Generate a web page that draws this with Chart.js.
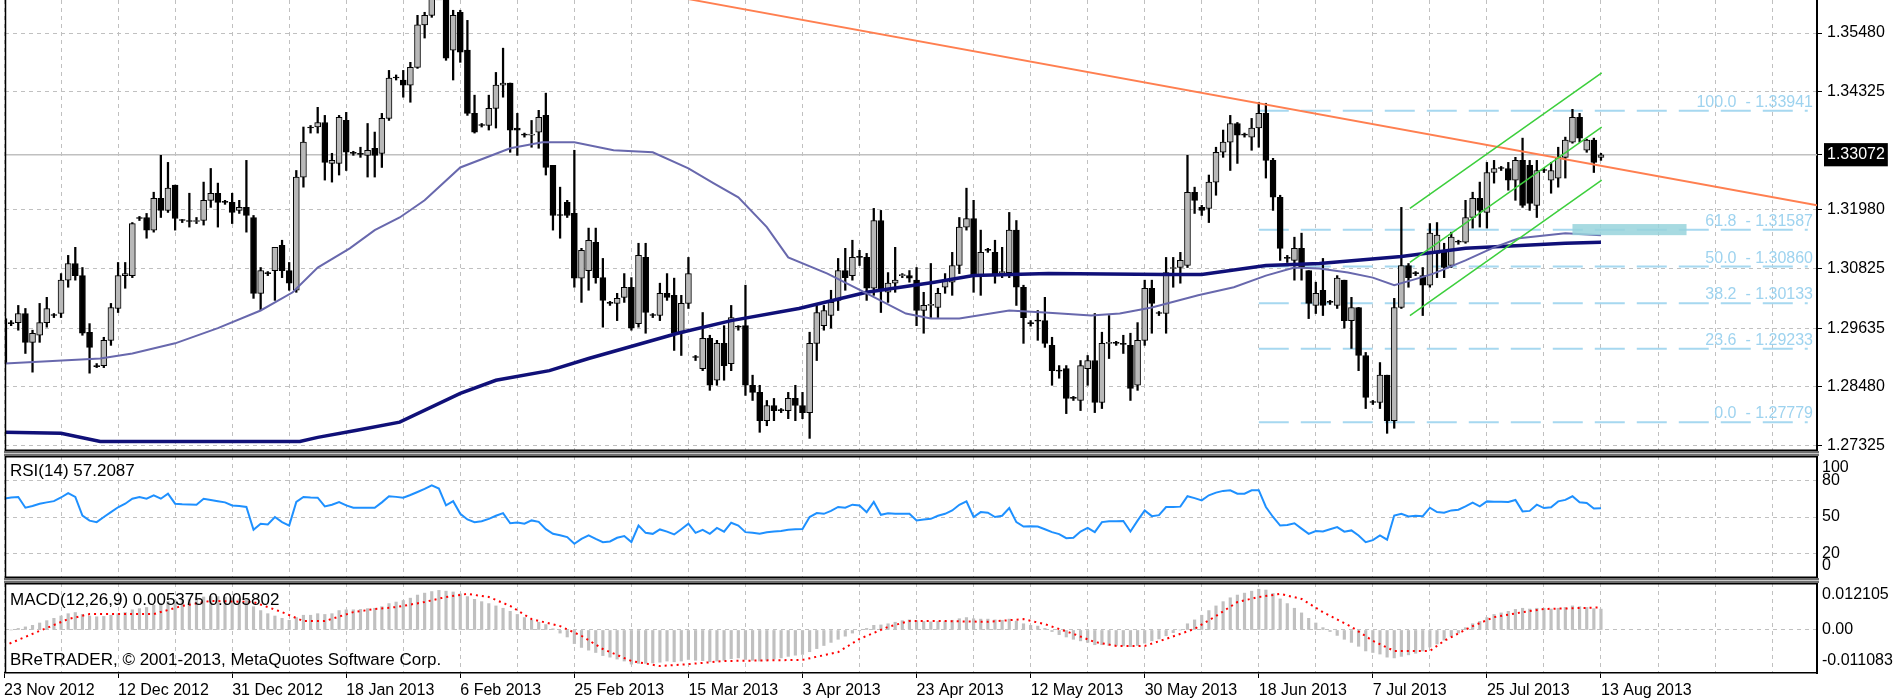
<!DOCTYPE html>
<html>
<head>
<meta charset="utf-8">
<title>EURUSD Daily</title>
<script src="https://cdn.jsdelivr.net/npm/chart.js@4.4.1/dist/chart.umd.min.js"></script>
<style>
  html, body { margin: 0; padding: 0; background: #fff; }
  #wrap { position: relative; width: 1900px; height: 700px; overflow: hidden; background: #fff; }
  #wrap canvas { position: absolute; left: 0; }
  .sep { position: absolute; left: 4px; width: 1815px; box-sizing: border-box; background: #c8c8c8; border-top: 2px solid #6e6e6e; border-bottom: 2px solid #6e6e6e; }
  .cap { position: absolute; left: 10px; font: 17px "Liberation Sans", Arial, sans-serif; color: #000; white-space: nowrap; line-height: 20px; }
</style>
</head>
<body>
<div id="wrap">
  <canvas id="main" width="1900" height="451" style="top:0"></canvas>
  <div class="sep" style="top:451px;height:5px"></div>
  <canvas id="rsi" width="1900" height="122" style="top:456px"></canvas>
  <div class="sep" style="top:578px;height:5px"></div>
  <canvas id="macd" width="1900" height="117" style="top:583px"></canvas>
  <div class="cap" style="top:461px">RSI(14) 57.2087</div>
  <div class="cap" style="top:590px">MACD(12,26,9) 0.005375 0.005802</div>
  <div class="cap" style="top:650px">BReTRADER, © 2001-2013, MetaQuotes Software Corp.</div>
</div>
<script>
Chart.defaults.font.family = '"Liberation Sans", Arial, sans-serif';
Chart.defaults.font.size = 16;
Chart.defaults.color = '#000';

// x axis: one step per daily bar (Sunday bars included), a date label every 16 bars
const dateLabels = ['23 Nov 2012', '12 Dec 2012', '31 Dec 2012', '18 Jan 2013', '6 Feb 2013',
  '25 Feb 2013', '15 Mar 2013', '3 Apr 2013', '23 Apr 2013', '12 May 2013', '30 May 2013',
  '18 Jun 2013', '7 Jul 2013', '25 Jul 2013', '13 Aug 2013'];
const barsPerLabel = 16;
const gridEvery = 8;
const xMin = 0.14, xMax = 254.3;

// price axis
const priceTicks = [1.27325, 1.2848, 1.29635, 1.30825, 1.3198, 1.33072, 1.34325, 1.3548];
const priceNow = 1.33072;
const priceMin = 1.2721, priceMax = 1.36133;

// candles
const opens = [
  1.2983,1.2975,1.2975,1.2993,1.2936,1.2950,1.2975,1.2989,1.2993,1.3059,
  1.3092,1.3068,1.2956,1.2890,1.2890,1.2940,1.3003,1.3068,1.3068,1.3181,
  1.3183,1.3158,1.3221,1.3197,1.3247,1.3177,1.3177,1.3175,1.3177,1.3217,
  1.3231,1.3213,1.3213,1.3197,1.3203,1.3183,1.3033,1.3072,1.3078,1.3128,
  1.3078,1.3039,1.3263,1.3360,1.3362,1.3371,1.3290,1.3290,1.3375,1.3310,
  1.3310,1.3306,1.3320,1.3310,1.3379,1.3461,1.3455,1.3445,1.3480,1.3564,
  1.3583,1.3692,1.3692,1.3514,1.3589,1.3514,1.3389,1.3365,1.3365,1.3399,
  1.3445,1.3449,1.3360,1.3346,1.3346,1.3352,1.3385,1.3286,1.3187,1.3213,
  1.3191,1.3063,1.3078,1.3134,1.3064,1.3013,1.3013,1.3025,1.3045,1.2973,
  1.3104,1.2989,1.2989,1.3033,1.3029,1.2954,1.3013,1.2906,1.2884,1.2944,
  1.2861,1.2934,1.2894,1.2966,1.2969,1.2851,1.2837,1.2781,1.2811,1.2801,
  1.2801,1.2825,1.2811,1.2797,1.2934,1.2969,1.2989,1.3019,1.3078,1.3068,
  1.3104,1.3104,1.3043,1.3177,1.3035,1.3053,1.3068,1.3068,1.3059,1.2999,
  1.3009,1.3005,1.3045,1.3055,1.3088,1.3164,1.3181,1.3068,1.3118,1.3114,
  1.3074,1.3074,1.3158,1.3045,1.2973,1.2979,1.2979,1.2930,1.2880,1.2884,
  1.2825,1.2821,1.2884,1.2900,1.2817,1.2934,1.2934,1.2934,1.2930,1.2851,
  1.2940,1.3043,1.2993,1.2993,1.3082,1.3084,1.3088,1.3233,1.3203,1.3201,
  1.3253,1.3312,1.3332,1.3369,1.3346,1.3342,1.3360,1.3389,1.3296,1.3223,
  1.3102,1.3098,1.3122,1.3078,1.3009,1.3039,1.3015,1.3009,1.3059,1.2979,
  1.3005,1.2910,1.2817,1.2817,1.2871,1.2781,1.3005,1.3088,1.3072,1.3068,
  1.3049,1.3112,1.3118,1.3088,1.3134,1.3134,1.3183,1.3221,1.3193,1.3272,
  1.3280,1.3280,1.3257,1.3296,1.3286,1.3207,1.3276,1.3257,1.3261,1.3302,
  1.3332,1.3381,1.3316,1.3336,1.3302];
const highs = [
  1.2989,1.2979,1.3009,1.3003,1.2960,1.3013,1.3025,1.2993,1.3072,1.3108,
  1.3124,1.3084,1.2973,1.2894,1.2946,1.3013,1.3094,1.3094,1.3173,1.3185,
  1.3191,1.3233,1.3306,1.3292,1.3247,1.3179,1.3231,1.3183,1.3253,1.3280,
  1.3251,1.3217,1.3231,1.3217,1.3296,1.3187,1.3084,1.3076,1.3124,1.3138,
  1.3094,1.3276,1.3362,1.3365,1.3401,1.3385,1.3310,1.3385,1.3391,1.3314,
  1.3322,1.3369,1.3352,1.3389,1.3474,1.3465,1.3474,1.3490,1.3583,1.3589,
  1.3712,1.3702,1.3702,1.3593,1.3593,1.3573,1.3425,1.3369,1.3425,1.3470,
  1.3518,1.3449,1.3389,1.3350,1.3375,1.3395,1.3429,1.3286,1.3243,1.3217,
  1.3316,1.3122,1.3162,1.3162,1.3102,1.3017,1.3033,1.3072,1.3064,1.3132,
  1.3132,1.2993,1.3053,1.3072,1.3063,1.3029,1.3104,1.2910,1.2995,1.2950,
  1.2940,1.2969,1.3009,1.2969,1.3049,1.2871,1.2851,1.2821,1.2825,1.2805,
  1.2837,1.2851,1.2837,1.2956,1.3013,1.3009,1.3039,1.3102,1.3122,1.3138,
  1.3118,1.3112,1.3201,1.3197,1.3074,1.3124,1.3072,1.3078,1.3084,1.3035,
  1.3092,1.3043,1.3072,1.3114,1.3183,1.3241,1.3217,1.3158,1.3122,1.3138,
  1.3124,1.3193,1.3177,1.3049,1.2979,1.2999,1.3025,1.2946,1.2890,1.2890,
  1.2829,1.2900,1.2910,1.2993,1.2956,1.2989,1.2938,1.2950,1.2954,1.2975,
  1.3059,1.3059,1.2997,1.3104,1.3104,1.3114,1.3306,1.3243,1.3207,1.3267,
  1.3322,1.3356,1.3385,1.3371,1.3350,1.3379,1.3411,1.3409,1.3300,1.3227,
  1.3108,1.3144,1.3152,1.3078,1.3055,1.3102,1.3019,1.3068,1.3059,1.3025,
  1.3005,1.2916,1.2821,1.2896,1.2871,1.3023,1.3203,1.3092,1.3076,1.3084,
  1.3171,1.3173,1.3132,1.3154,1.3138,1.3217,1.3233,1.3253,1.3292,1.3296,
  1.3284,1.3292,1.3302,1.3340,1.3296,1.3296,1.3280,1.3292,1.3322,1.3342,
  1.3397,1.3389,1.3338,1.3340,1.3310];
const lows = [
  1.2865,1.2969,1.2960,1.2914,1.2877,1.2936,1.2966,1.2985,1.2985,1.3045,
  1.3059,1.2950,1.2875,1.2886,1.2886,1.2930,1.2995,1.3043,1.3064,1.3177,
  1.3142,1.3154,1.3183,1.3193,1.3158,1.3173,1.3164,1.3171,1.3168,1.3203,
  1.3164,1.3209,1.3171,1.3191,1.3154,1.3023,1.2999,1.3068,1.3019,1.3064,
  1.3039,1.3035,1.3243,1.3350,1.3350,1.3257,1.3253,1.3267,1.3276,1.3306,
  1.3302,1.3263,1.3263,1.3282,1.3375,1.3455,1.3421,1.3411,1.3478,1.3538,
  1.3579,1.3688,1.3494,1.3455,1.3490,1.3385,1.3350,1.3362,1.3356,1.3360,
  1.3421,1.3312,1.3306,1.3342,1.3322,1.3320,1.3267,1.3158,1.3142,1.3183,
  1.3045,1.3015,1.3039,1.3053,1.2966,1.3009,1.2979,1.3015,1.2960,1.2966,
  1.2954,1.2985,1.2979,1.3019,1.2920,1.2910,1.3003,1.2900,1.2880,1.2841,
  1.2851,1.2861,1.2880,1.2960,1.2831,1.2821,1.2758,1.2771,1.2781,1.2797,
  1.2785,1.2781,1.2785,1.2746,1.2900,1.2960,1.2964,1.2999,1.3039,1.3059,
  1.3088,1.3019,1.3029,1.2995,1.3015,1.3035,1.3064,1.3055,1.2969,1.2954,
  1.2985,1.2985,1.3033,1.3029,1.3072,1.3158,1.3035,1.3029,1.3114,1.3053,
  1.3064,1.3064,1.3009,1.2934,1.2968,1.2940,1.2926,1.2851,1.2865,1.2795,
  1.2821,1.2801,1.2851,1.2797,1.2805,1.2904,1.2930,1.2914,1.2821,1.2841,
  1.2930,1.2954,1.2989,1.2954,1.3045,1.3053,1.3084,1.3191,1.3187,1.3173,
  1.3227,1.3302,1.3276,1.3290,1.3342,1.3316,1.3322,1.3261,1.3197,1.3098,
  1.3094,1.3059,1.3059,1.2983,1.2993,1.2989,1.3011,1.3003,1.2964,1.2924,
  1.2880,1.2805,1.2813,1.2805,1.2756,1.2766,1.3003,1.3045,1.3068,1.2989,
  1.3045,1.3064,1.3064,1.3084,1.3130,1.3132,1.3162,1.3164,1.3162,1.3251,
  1.3276,1.3237,1.3217,1.3203,1.3197,1.3183,1.3272,1.3231,1.3243,1.3261,
  1.3330,1.3332,1.3312,1.3272,1.3296];
const closes = [
  1.2896,1.2973,1.2993,1.2936,1.2954,1.2975,1.3003,1.2989,1.3059,1.3092,
  1.3068,1.2954,1.2926,1.2888,1.2940,1.3005,1.3068,1.3072,1.3171,1.3181,
  1.3158,1.3221,1.3197,1.3241,1.3181,1.3177,1.3175,1.3177,1.3217,1.3231,
  1.3213,1.3213,1.3193,1.3203,1.3187,1.3033,1.3078,1.3072,1.3124,1.3078,
  1.3053,1.3263,1.3332,1.3360,1.3371,1.3292,1.3296,1.3381,1.3312,1.3310,
  1.3308,1.3316,1.3306,1.3379,1.3459,1.3459,1.3445,1.3480,1.3564,1.3583,
  1.3672,1.3692,1.3498,1.3583,1.3510,1.3389,1.3352,1.3365,1.3399,1.3445,
  1.3449,1.3356,1.3356,1.3346,1.3348,1.3381,1.3282,1.3187,1.3187,1.3187,
  1.3063,1.3118,1.3138,1.3064,1.3019,1.3013,1.3023,1.3045,1.2964,1.3108,
  1.2995,1.2989,1.3033,1.3025,1.2954,1.3013,1.3072,1.2906,1.2944,1.2851,
  1.2934,1.2890,1.2985,1.2966,1.2851,1.2837,1.2781,1.2811,1.2801,1.2801,
  1.2825,1.2811,1.2797,1.2934,1.2995,1.2999,1.3015,1.3078,1.3064,1.3104,
  1.3104,1.3043,1.3177,1.3039,1.3053,1.3059,1.3070,1.3063,1.2999,1.3009,
  1.3011,1.3033,1.3059,1.3088,1.3164,1.3181,1.3068,1.3114,1.3118,1.3072,
  1.3076,1.3158,1.3045,1.2985,1.2973,1.2978,1.2934,1.2880,1.2879,1.2825,
  1.2825,1.2890,1.2900,1.2817,1.2934,1.2935,1.2934,1.2932,1.2845,1.2940,
  1.3043,1.3013,1.2993,1.3074,1.3084,1.3098,1.3233,1.3217,1.3197,1.3253,
  1.3312,1.3332,1.3369,1.3346,1.3346,1.3360,1.3389,1.3296,1.3223,1.3122,
  1.3102,1.3122,1.3084,1.3013,1.3033,1.3009,1.3015,1.3063,1.2979,1.3005,
  1.2910,1.2827,1.2817,1.2871,1.2781,1.3005,1.3088,1.3064,1.3072,1.3049,
  1.3152,1.3148,1.3084,1.3144,1.3134,1.3183,1.3221,1.3197,1.3272,1.3280,
  1.3280,1.3257,1.3296,1.3207,1.3211,1.3276,1.3276,1.3276,1.3302,1.3336,
  1.3381,1.3340,1.3336,1.3292,1.33072];

// moving averages, read at bar positions along the curves
const ma50Idx = [0,13.5,18,24,30,36,40.5,44,48.5,52,55.5,59,64,71,75.5,80,85.5,91,96,99.5,
  103,107,110,115.5,121,126.5,130,134,141,146,152.5,156.5,161,167.5,172.5,177,181,184.5,188.5,192,
  195,197.5,200.5,205,209,212.5,219,224];
const ma50Val = [1.2894,1.2904,1.2914,1.2934,1.2964,1.2999,1.3035,1.3084,1.3122,1.3158,
  1.3183,1.3217,1.3282,1.3320,1.3332,1.3332,1.3316,1.3312,1.3280,1.3251,
  1.3223,1.3164,1.3104,1.3072,1.3033,1.2993,1.2983,1.2983,1.2999,1.2995,
  1.2989,1.2993,1.3005,1.3029,1.3045,1.3068,1.3084,1.3082,1.3074,1.3064,
  1.3049,1.3059,1.3072,1.3098,1.3124,1.3142,1.3152,1.3148];
const ma200Idx = [0,8,13.5,41.5,44,49.5,55.5,64,69,76.5,82,94.5,102,111.5,121,130.5,136,146.5,163,168,
  177,184.5,196,205,219,224];
const ma200Val = [1.2758,1.2756,1.2740,1.2740,1.2748,1.2762,1.2778,1.2835,1.2861,1.2880,
  1.2904,1.2954,1.2979,1.3003,1.3035,1.3055,1.3068,1.3072,1.3070,1.3070,
  1.3088,1.3092,1.3106,1.3122,1.3132,1.3134];

// drawn objects
const trendIdx = [96, 254.3];
const trendVal = [1.3615, 1.3207];
const chanIdx = [197.2, 224.1];
const chanUpper = [1.3201, 1.3469];
const chanMid = [1.3094, 1.3362];
const chanLower = [1.2989, 1.3257];
const fibStartIdx = 176, fibEndIdx = 253;
const fibLevels = [1.33941, 1.31587, 1.30860, 1.30133, 1.29233, 1.27779];
const fibPct = ['100.0', '61.8', '50.0', '38.2', '23.6', '0.0'];
const boxIdx = [220, 236];
const boxVal = [1.3148, 1.3170];

// RSI(14)
const rsiTicks = [0, 20, 50, 80, 100];
const rsiValues = [
  65,66,66.4,57.6,59,60.9,62,63,66,69.6,
  66.4,51.2,47,45.8,50,54,58,60.9,65,66.4,
  65,67.8,65,69.1,60.9,60.5,60.3,60.1,65,64,
  63,62,59.5,59,58.2,39.5,44.5,43.9,50,45.8,
  43,62.3,66.4,66,65.8,58.7,60,62.3,59.5,57.6,
  57.6,57.6,57.6,62,67,66.5,65.8,68,70.5,73,
  76,73.3,59.5,63,52.6,48,45.8,46.5,48.5,51,
  53.2,44.9,45.5,44.5,47.2,46,40,36.2,35,33.5,
  28,32,34.9,32,29.4,30,33,34.4,29.4,43,
  37,36.2,39.8,38,35.7,40,44.5,37,39.5,36.2,
  41,38,45.3,43,37.6,37,36.2,37.5,38.1,38.5,
  39.5,40,40.2,50,53.2,52.6,55,58.2,57.6,60.1,
  59.5,54,62.3,51.8,53,52.6,52.6,52.6,47.2,48,
  48.5,51,52.6,55.4,60,62.8,50,54,53.5,50,
  51,57.3,45.8,42.2,42.5,42.2,40,37.6,36,32.6,
  33,38.1,41.1,37.6,45.8,46.5,46.5,46.7,38.1,47,
  55.4,50.7,51.5,58.2,58.2,58.5,67,65.5,63.6,67.8,
  70,71.4,71.9,69.1,69.1,71.9,72,58.2,50,43,
  43.5,44.9,40.5,36.2,38.5,38.1,40,41.7,38,39,
  34.9,29.4,31,34.9,31.4,51.2,52.6,50.5,51,50.7,
  57.6,54,53.5,55.4,56,58.7,61.7,58.7,62.8,62.5,
  62.5,62.3,64,54.6,55,60.1,57.3,58,62.8,64,
  67,62,61.5,57,57.2087];

// MACD(12,26,9)
const macdTicks = [-0.011083, 0, 0.012105];
const macdMain = [
  -0.0003,0.0000,0.0004,0.0008,0.0012,0.0018,0.0024,0.0030,0.0036,0.0042,
  0.0045,0.0040,0.0036,0.0034,0.0035,0.0038,0.0042,0.0045,0.0052,0.0055,
  0.0058,0.0064,0.0068,0.0074,0.0076,0.0078,0.0080,0.0083,0.0085,0.0086,
  0.0086,0.0085,0.0083,0.0080,0.0076,0.0060,0.0050,0.0042,0.0036,0.0030,
  0.0025,0.0032,0.0038,0.0038,0.0042,0.0040,0.0042,0.0050,0.0052,0.0052,
  0.0053,0.0055,0.0056,0.0060,0.0068,0.0072,0.0076,0.0082,0.0090,0.0095,
  0.0099,0.0102,0.0100,0.0098,0.0093,0.0086,0.0079,0.0073,0.0068,0.0062,
  0.0056,0.0048,0.0040,0.0032,0.0026,0.0020,0.0014,0.0003,-0.0008,-0.0018,
  -0.0035,-0.0045,-0.0052,-0.0058,-0.0066,-0.0070,-0.0075,-0.0080,-0.0088,-0.0086,
  -0.0086,-0.0085,-0.0083,-0.0080,-0.0082,-0.0080,-0.0076,-0.0078,-0.0079,-0.0082,
  -0.0080,-0.0078,-0.0074,-0.0072,-0.0076,-0.0078,-0.0080,-0.0078,-0.0075,-0.0072,
  -0.0068,-0.0065,-0.0063,-0.0056,-0.0048,-0.0040,-0.0032,-0.0024,-0.0016,-0.0008,
  -0.0002,0.0004,0.0012,0.0013,0.0016,0.0020,0.0024,0.0026,0.0024,0.0022,
  0.0021,0.0022,0.0023,0.0025,0.0029,0.0032,0.0029,0.0028,0.0028,0.0026,
  0.0025,0.0028,0.0023,0.0016,0.0012,0.0010,0.0004,-0.0004,-0.0012,-0.0018,
  -0.0024,-0.0028,-0.0032,-0.0038,-0.0038,-0.0040,-0.0040,-0.0041,-0.0043,-0.0040,
  -0.0034,-0.0028,-0.0023,-0.0015,-0.0007,0.0000,0.0016,0.0026,0.0038,0.0050,
  0.0062,0.0073,0.0083,0.0090,0.0095,0.0100,0.0105,0.0103,0.0094,0.0080,
  0.0068,0.0056,0.0044,0.0030,0.0018,0.0006,-0.0004,-0.0014,-0.0024,-0.0032,
  -0.0042,-0.0054,-0.0058,-0.0062,-0.0070,-0.0072,-0.0068,-0.0064,-0.0060,-0.0054,
  -0.0044,-0.0036,-0.0026,-0.0016,-0.0008,0.0006,0.0016,0.0022,0.0032,0.0040,
  0.0044,0.0048,0.0053,0.0056,0.0054,0.0056,0.0056,0.0054,0.0056,0.0058,
  0.0062,0.0060,0.0058,0.0055,0.005375];
const sigIdx = [0,4,9,12,21,25,29,35,39,42,45,49,52,55,59,62,65,68,71,74,
  78,81,84,88,92,96,101,112,117,120,124,127,132,138,143,146,150,153,156,160,
  163,167,170,173,176,179,182,185,189,192,195,200,202,206,209,213,216,224];
const sigVal = [-0.0041,-0.0010,0.0028,0.0041,0.0041,0.0062,0.0075,0.0072,0.0046,0.0023,
  0.0023,0.0046,0.0054,0.0059,0.0072,0.0085,0.0093,0.0085,0.0062,0.0028,
  0.0010,-0.0015,-0.0049,-0.0080,-0.0093,-0.0088,-0.0080,-0.0077,-0.0057,-0.0023,
  0.0008,0.0023,0.0023,0.0021,0.0028,0.0015,-0.0010,-0.0031,-0.0041,-0.0041,
  -0.0023,0.0003,0.0036,0.0072,0.0085,0.0093,0.0080,0.0046,0.0008,-0.0028,
  -0.0054,-0.0054,-0.0028,0.0010,0.0033,0.0046,0.0054,0.005802];

// ---------------------------------------------------------------
const GRID = '#c0c0c0';
const NONE = 'rgba(0,0,0,0)';

const gridBars = [];
for (let b = 0; b <= xMax; b += gridEvery) gridBars.push(b);

function pts(idx, val) {
  return idx.map((x, k) => ({ x: x, y: val[k] }));
}
function series(vals) {
  return vals.map((v, i) => ({ x: i, y: v }));
}
function lineDs(data, color, width, order, dash) {
  return { type: 'line', data: data, borderColor: color, borderWidth: width, borderDash: dash || [],
    pointRadius: 0, tension: 0, fill: false, order: order };
}

const framePlugin = {
  id: 'frame',
  afterDraw(chart, args, opts) {
    const a = chart.chartArea, c = chart.ctx;
    c.save();
    c.strokeStyle = '#000';
    c.lineWidth = 1.5;
    c.beginPath();
    c.moveTo(a.left + 0.5, a.top);
    c.lineTo(a.left + 0.5, a.bottom);
    if (opts.top) { c.moveTo(a.left, a.top + 0.75); c.lineTo(a.right, a.top + 0.75); }
    if (opts.bottom) { c.moveTo(a.left, a.bottom - 0.75); c.lineTo(a.right, a.bottom - 0.75); }
    c.stroke();
    c.restore();
  }
};

const fibPlugin = {
  id: 'fibText',
  afterDatasetsDraw(chart) {
    const x = chart.scales.x, y = chart.scales.y, c = chart.ctx, a = chart.chartArea;
    c.save();
    c.beginPath();
    c.rect(a.left, a.top, a.right - a.left, a.bottom - a.top);
    c.clip();
    const x0 = x.getPixelForValue(boxIdx[0]), x1 = x.getPixelForValue(boxIdx[1]);
    const y0 = y.getPixelForValue(boxVal[1]), y1 = y.getPixelForValue(boxVal[0]);
    c.fillStyle = 'rgba(152, 212, 220, 0.85)';
    c.fillRect(x0, y0, x1 - x0, y1 - y0);
    c.font = '16px "Liberation Sans", Arial, sans-serif';
    c.fillStyle = '#9ed3ef';
    c.textAlign = 'right';
    c.textBaseline = 'alphabetic';
    fibLevels.forEach((lv, k) => {
      c.fillText(fibPct[k] + '  - ' + lv.toFixed(5), a.right - 4, y.getPixelForValue(lv) - 4);
    });
    c.restore();
  }
};

function baseOptions(frame) {
  return {
    responsive: false,
    animation: false,
    events: [],
    layout: { padding: { left: 5, right: 0, top: 0, bottom: 0 } },
    plugins: { legend: { display: false }, tooltip: { enabled: false }, frame: frame }
  };
}

function hiddenX() {
  return {
    type: 'linear', min: xMin, max: xMax, offset: false,
    afterBuildTicks: s => { s.ticks = gridBars.map(v => ({ value: v })); },
    afterFit: s => { s.height = 0; s.paddingLeft = 0; s.paddingRight = 0; },
    ticks: { display: false, autoSkip: false },
    grid: { color: GRID, drawTicks: false, offset: false },
    border: { display: false, dash: [4, 4] }
  };
}

function fitY(s) { s.width = 83; s.paddingTop = 0; s.paddingBottom = 0; }

// ---------------- price window ----------------
const bodyColors = opens.map((o, i) => closes[i] > o ? '#b8b8b8' : '#000000');

const mainOpts = baseOptions({ top: false, bottom: true });
mainOpts.scales = {
  x: hiddenX(),
  y: {
    type: 'linear', position: 'right', min: priceMin, max: priceMax,
    afterBuildTicks: s => { s.ticks = priceTicks.map(v => ({ value: v })); },
    afterFit: fitY,
    ticks: {
      autoSkip: false,
      callback: v => v.toFixed(5),
      color: c => c.tick && c.tick.value === priceNow ? '#fff' : '#000',
      showLabelBackdrop: true,
      backdropColor: c => c.tick && c.tick.value === priceNow ? '#000' : NONE,
      backdropPadding: { x: 3, y: 2 },
      padding: 5
    },
    grid: { color: c => c.tick && c.tick.value === priceNow ? NONE : GRID, tickColor: '#000', tickLength: 5 },
    border: { display: true, color: '#000', width: 2, dash: [4, 4] }
  }
};

new Chart(document.getElementById('main'), {
  type: 'line',
  data: {
    datasets: [
      lineDs(pts(chanIdx, chanUpper), '#3ccf3c', 1.5, 0),
      lineDs(pts(chanIdx, chanMid), '#3ccf3c', 1.5, 0),
      lineDs(pts(chanIdx, chanLower), '#3ccf3c', 1.5, 0),
      lineDs(pts(trendIdx, trendVal), '#ff7f50', 2, 0),
      lineDs(pts(ma50Idx, ma50Val), '#6868ad', 2, 1),
      lineDs(pts(ma200Idx, ma200Val), '#101078', 3.5, 1),
      {
        type: 'bar', data: opens.map((o, i) => ({ x: i, y: [o, closes[i]] })),
        backgroundColor: bodyColors, borderColor: '#000', borderWidth: 1, borderSkipped: false,
        grouped: false, maxBarThickness: 6, categoryPercentage: 1, barPercentage: 1, minBarLength: 1, order: 2
      },
      {
        type: 'bar', data: lows.map((l, i) => ({ x: i, y: [l, highs[i]] })),
        backgroundColor: '#000', borderWidth: 0,
        grouped: false, maxBarThickness: 1.6, categoryPercentage: 1, barPercentage: 1, order: 3
      },
      ...fibLevels.map(lv => lineDs([{ x: fibStartIdx, y: lv }, { x: fibEndIdx, y: lv }], '#a6d8f0', 2, 4, [30, 12])),
      lineDs([{ x: xMin, y: priceNow }, { x: xMax, y: priceNow }], '#c0c0c0', 1.5, 5)
    ]
  },
  options: mainOpts,
  plugins: [framePlugin, fibPlugin]
});

// ---------------- RSI window ----------------
const rsiOpts = baseOptions({ top: true, bottom: true });
rsiOpts.scales = {
  x: hiddenX(),
  y: {
    type: 'linear', position: 'right', min: 0, max: 100,
    afterBuildTicks: s => { s.ticks = rsiTicks.map(v => ({ value: v })); },
    afterFit: fitY,
    ticks: {
      autoSkip: false,
      callback: v => v === 100 ? ['', '100'] : (v === 0 ? ['0', ''] : String(v)),
      font: { size: 16, lineHeight: 1.5 },
      padding: 5
    },
    grid: { color: c => c.tick && c.tick.value > 0 && c.tick.value < 100 ? GRID : NONE, drawTicks: false },
    border: { display: true, color: '#000', width: 2, dash: [4, 4] }
  }
};

new Chart(document.getElementById('rsi'), {
  type: 'line',
  data: { datasets: [lineDs(series(rsiValues), '#1e90ff', 2, 0)] },
  options: rsiOpts,
  plugins: [framePlugin]
});

// ---------------- MACD window ----------------
const macdOpts = baseOptions({ top: true, bottom: false });
macdOpts.scales = {
  x: {
    type: 'linear', min: xMin, max: xMax, offset: false,
    afterBuildTicks: s => { s.ticks = gridBars.map(v => ({ value: v })); },
    afterFit: s => { s.height = 27; s.paddingLeft = 0; s.paddingRight = 0; },
    ticks: {
      autoSkip: false, maxRotation: 0, align: 'start', padding: 3,
      callback: v => (v % barsPerLabel === 0 && v / barsPerLabel < dateLabels.length) ? dateLabels[v / barsPerLabel] : ''
    },
    grid: {
      color: GRID, offset: false, tickLength: 5,
      tickColor: c => c.tick && c.tick.value % barsPerLabel === 0 && c.tick.value / barsPerLabel < dateLabels.length ? '#000' : NONE
    },
    border: { display: true, color: '#000', width: 1.5, dash: [4, 4] }
  },
  y: {
    type: 'linear', position: 'right', min: macdTicks[0], max: macdTicks[2],
    afterBuildTicks: s => { s.ticks = macdTicks.map(v => ({ value: v })); },
    afterFit: fitY,
    ticks: {
      autoSkip: false,
      callback: v => v === 0 ? '0.00' : (v > 0 ? ['', v.toFixed(6)] : [v.toFixed(6), '']),
      font: { size: 16, lineHeight: 1.5 },
      padding: 5
    },
    grid: { color: c => c.tick && c.tick.value === 0 ? GRID : NONE, drawTicks: false },
    border: { display: true, color: '#000', width: 2, dash: [4, 4] }
  }
};

new Chart(document.getElementById('macd'), {
  type: 'line',
  data: {
    datasets: [
      lineDs(pts(sigIdx, sigVal), '#ff0000', 2, 0, [2, 4]),
      {
        type: 'bar', data: series(macdMain), backgroundColor: '#c0c0c0', borderWidth: 0,
        grouped: false, maxBarThickness: 2.5, categoryPercentage: 1, barPercentage: 1, order: 1
      }
    ]
  },
  options: macdOpts,
  plugins: [framePlugin]
});
</script>
</body>
</html>
